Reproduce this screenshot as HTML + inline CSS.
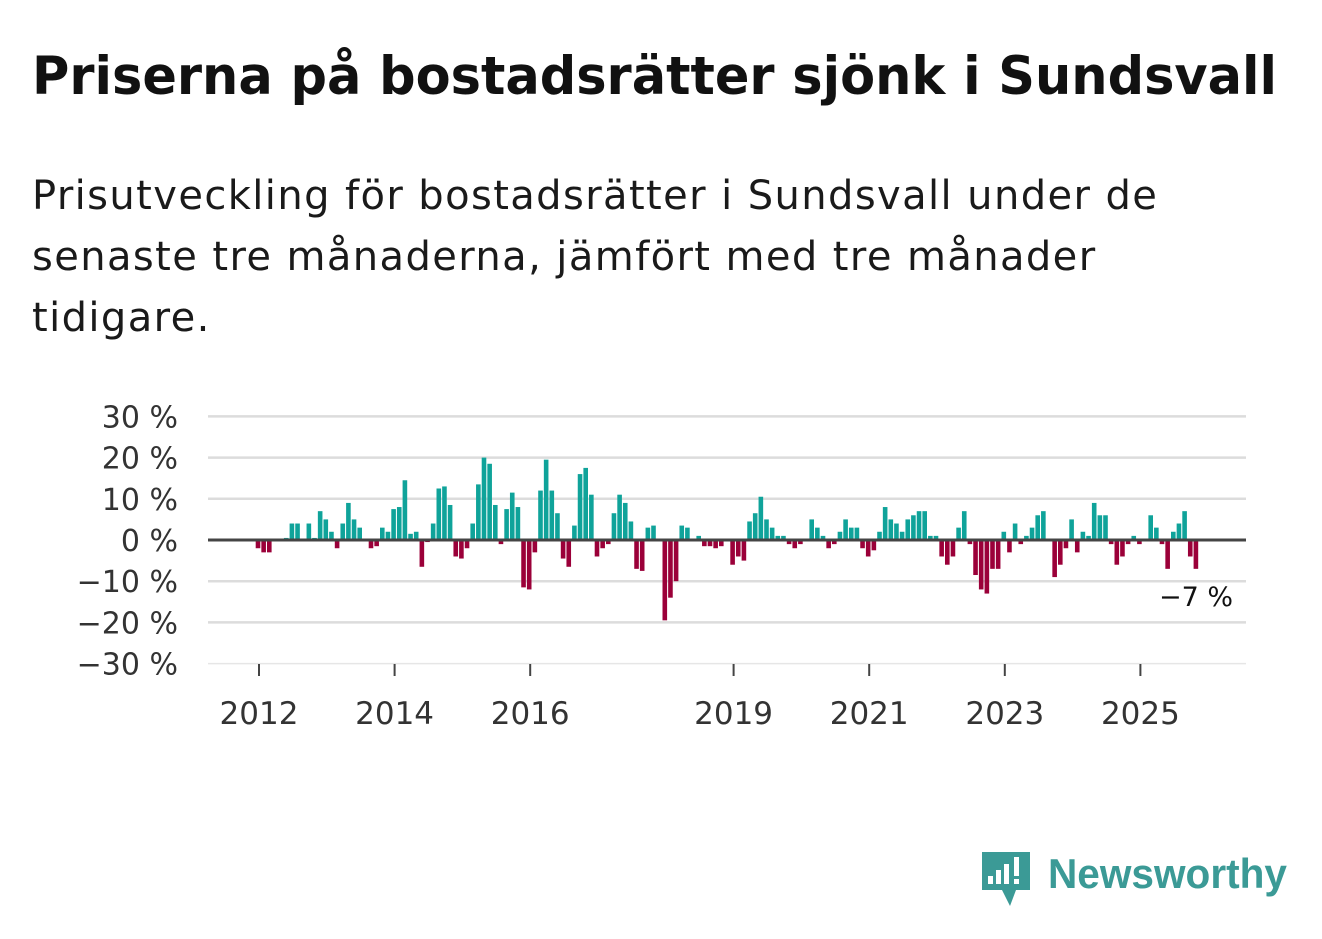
<!DOCTYPE html>
<html><head><meta charset="utf-8"><style>
body{margin:0;background:#fff;width:1322px;height:939px;overflow:hidden;font-family:"DejaVu Sans",sans-serif;}
#s{position:absolute;left:32px;top:166px;font-size:40px;line-height:61px;color:#1a1a1a;white-space:nowrap;font-family:"DejaVu Sans",sans-serif;letter-spacing:1.4px}
svg{position:absolute;left:0;top:0}
</style></head><body>
<svg width="1322" height="120"><text x="32" y="94" font-size="53" font-weight="bold" fill="#111" font-family="DejaVu Sans, sans-serif" textLength="1245" lengthAdjust="spacingAndGlyphs">Priserna på bostadsrätter sjönk i Sundsvall</text></svg>
<div id="s">Prisutveckling för bostadsrätter i Sundsvall under de<br>senaste tre månaderna, jämfört med tre månader<br>tidigare.</div>
<svg id="c" width="1322" height="939"></svg>
<script>
const values=[-2,-3,-3,0,0,0.5,4,4,0,4,0.5,7,5,2,-2,4,9,5,3,0,-2,-1.5,3,2,7.5,8,14.5,1.5,2,-6.5,-0.5,4,12.5,13,8.5,-4,-4.5,-2,4,13.5,20,18.5,8.5,-1,7.5,11.5,8,-11.5,-12,-3,12,19.5,12,6.5,-4.5,-6.5,3.5,16,17.5,11,-4,-2,-1,6.5,11,9,4.5,-7,-7.5,3,3.5,0,-19.5,-14,-10,3.5,3,0,1,-1.5,-1.5,-2,-1.5,0,-6,-4,-5,4.5,6.5,10.5,5,3,1,1,-1,-2,-1,0,5,3,1,-2,-1,2,5,3,3,-2,-4,-2.5,2,8,5,4,2,5,6,7,7,1,1,-4,-6,-4,3,7,-1,-8.5,-12,-13,-7,-7,2,-3,4,-1,1,3,6,7,0,-9,-6,-2,5,-3,2,1,9,6,6,-1,-6,-4,-1,1,-1,0,6,3,-1,-7,2,4,7,-4,-7];
const yTicks=[30,20,10,0,-10,-20,-30];
const yearLabels=[2012,2014,2016,2019,2021,2023,2025];
const startYear=2012;
const NS="http://www.w3.org/2000/svg";
const svg=document.getElementById('c');
const x0=208,x1=1246;
const y=v=>540-v*4.12;
const xm=i=>258+i*5.65;
const xYear=yr=>259+(yr-startYear)*67.8;
const FF='DejaVu Sans, sans-serif';
function mk(tag,attrs){const e=document.createElementNS(NS,tag);for(const k in attrs)e.setAttribute(k,attrs[k]);svg.appendChild(e);return e;}
yTicks.forEach(v=>{
  if(v!==0){const l=mk('line',{x1:x0,x2:x1,y1:y(v),y2:y(v),stroke:v===-30?'#e6e6e6':'#dcdcdc','stroke-width':v===-30?1.5:2.5});
  
  }
  const t=mk('text',{x:178,y:y(v)+11,'text-anchor':'end','font-size':30,fill:'#333','font-family':FF});
  t.textContent=(v<0?'−'+(-v):v)+' %';
  
  
});
values.forEach((v,i)=>{
  const r=mk('rect',{x:xm(i)-2.3,width:4.6,y:v>=0?y(v):540,height:Math.abs(v)*4.12,fill:v>=0?'#0fa39a':'#9b0039'});
  
  
});
const z=mk('line',{x1:x0,x2:x1,y1:540,y2:540,stroke:'#444','stroke-width':3});


yearLabels.forEach(yr=>{
  const tk=mk('line',{x1:xYear(yr),x2:xYear(yr),y1:664,y2:676,stroke:'#444','stroke-width':2});
  
  
  const t=mk('text',{x:xYear(yr),y:724,'text-anchor':'middle','font-size':31,fill:'#333','font-family':FF});
  t.textContent=yr;
  
  
});
const last=values[values.length-1];
const lb=mk('text',{x:1233,y:606,'text-anchor':'end','font-size':27,fill:'#111','font-family':FF});
lb.textContent=(last<0?'−'+(-last):last)+' %';


</script>
<svg width="1322" height="939">
<path d="M982 852h48v38h-14l-6 16-8-16h-20z" fill="#3b9a96"/>
<rect x="988" y="876" width="5" height="8" fill="#fff"/><rect x="996" y="870" width="5" height="14" fill="#fff"/><rect x="1004" y="864" width="5" height="20" fill="#fff"/><rect x="1014" y="857" width="5" height="19" fill="#fff"/><rect x="1014" y="879" width="5" height="5" fill="#fff"/>
<text x="1048" y="888" font-size="42" font-weight="bold" fill="#3b9a96" font-family="Liberation Sans, sans-serif" textLength="239" lengthAdjust="spacingAndGlyphs">Newsworthy</text>
</svg>
</body></html>
